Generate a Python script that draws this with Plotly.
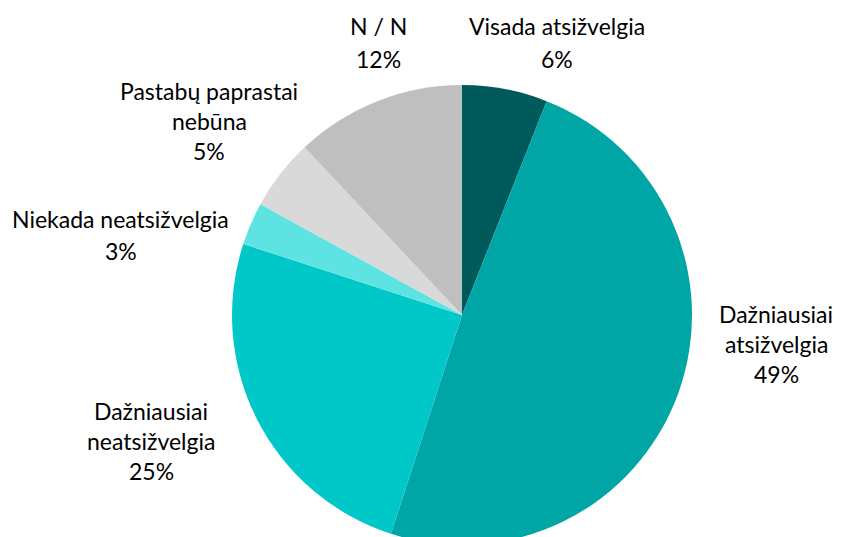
import plotly.graph_objects as go

categories = ["Visada atsižvelgia", "Dažniausiai atsižvelgia", "Dažniausiai neatsižvelgia",
              "Niekada neatsižvelgia", "Pastabų paprastai nebūna", "N / N"]
values = [6, 49, 25, 3, 5, 12]
label_lines = [
    ["Visada atsižvelgia", "6%"],
    ["Dažniausiai", "atsižvelgia", "49%"],
    ["Dažniausiai", "neatsižvelgia", "25%"],
    ["Niekada neatsižvelgia", "3%"],
    ["Pastabų paprastai", "nebūna", "5%"],
    ["N / N", "12%"],
]
colors = ["#005A5B", "#00A5A5", "#00C8C8", "#5EE3E3", "#D9D9D9", "#BFBFBF"]

# page body has an 8px margin; work in page pixels and convert
OFF = 8
W, H = 841, 546 - OFF
cx, cy, r = 462 - OFF, 315 - OFF, 230

# label block positions (page pixel centre x, first line centre y, line step)
label_pos = [
    (557, 26, 33),
    (776, 314, 30),
    (151, 411, 30),
    (121, 219, 32),
    (209, 91, 30),
    (378, 26, 33),
]

fig = go.Figure(go.Pie(
    labels=categories,
    values=values,
    sort=False,
    direction="clockwise",
    rotation=0,
    marker=dict(colors=colors, line=dict(width=0)),
    textinfo="none",
    hoverinfo="label+percent",
    showlegend=False,
    domain=dict(x=[(cx - r) / W, (cx + r) / W], y=[(H - cy - r) / H, (H - cy + r) / H]),
))

annotations = []
for lines, (x, y0, step) in zip(label_lines, label_pos):
    for i, t in enumerate(lines):
        annotations.append(dict(
            text=t, x=(x - OFF) / W, y=1 - (y0 - OFF + i * step) / H,
            xref="paper", yref="paper", xanchor="center", yanchor="middle",
            showarrow=False, font=dict(family="Lato", size=23, color="#000000"),
        ))

fig.update_layout(
    width=W, height=H, autosize=False,
    margin=dict(l=0, r=0, t=0, b=0),
    paper_bgcolor="white", plot_bgcolor="white",
    annotations=annotations,
)

fig.write_html("out.html")
